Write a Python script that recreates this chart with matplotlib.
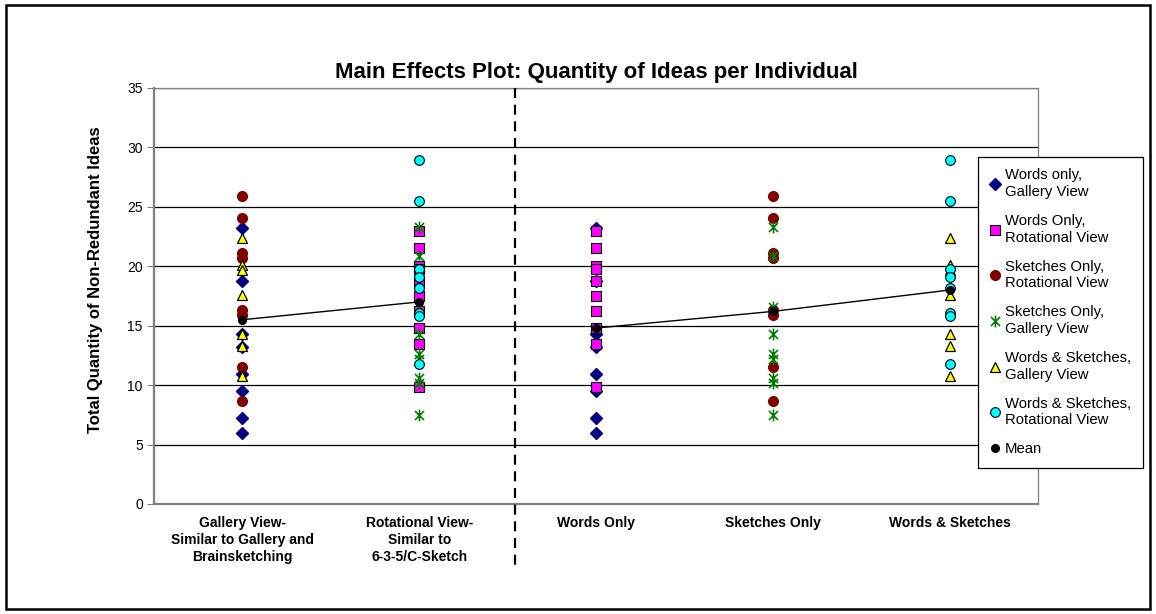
import numpy as np
import matplotlib
matplotlib.use('Agg')
import matplotlib.pyplot as plt
from matplotlib.path import Path

plt.rcParams['font.family'] = ['Liberation Sans', 'DejaVu Sans']

categories = ['Gallery View-\nSimilar to Gallery and\nBrainsketching',
              'Rotational View-\nSimilar to\n6-3-5/C-Sketch',
              'Words Only', 'Sketches Only', 'Words & Sketches']

# each series appears in two columns (category positions 1..5)
words_gallery = [23.2, 18.8, 14.3, 13.2, 10.9, 9.5, 7.2, 6.0]
words_rot = [23.0, 21.5, 20.0, 19.8, 18.8, 17.5, 16.2, 14.8, 13.5, 9.8]
sketch_rot = [25.9, 24.1, 21.1, 20.7, 16.3, 15.9, 11.5, 8.7]
sketch_gallery = [23.3, 20.9, 16.6, 14.3, 12.6, 12.2, 10.6, 10.2, 7.5]
ws_gallery = [22.4, 20.1, 19.7, 17.6, 14.3, 13.3, 10.8]
ws_rot = [28.9, 25.5, 19.8, 19.1, 18.2, 16.1, 15.8, 11.8]
means = [15.5, 17.0, 14.8, 16.2, 18.0]

star = Path([(-1, -1), (1, 1), (-1, 1), (1, -1), (0, -1.3), (0, 1.3)],
            [Path.MOVETO, Path.LINETO, Path.MOVETO, Path.LINETO, Path.MOVETO, Path.LINETO])

series = [
    ('Words only,\nGallery View', words_gallery, (1, 3),
     dict(marker='D', ms=6, mfc='#000080', mec='#000080')),
    ('Words Only,\nRotational View', words_rot, (2, 3),
     dict(marker='s', ms=6.5, mfc='#FF00FF', mec='black', mew=0.8)),
    ('Sketches Only,\nRotational View', sketch_rot, (1, 4),
     dict(marker='o', ms=7, mfc='#800000', mec='#800000')),
    ('Sketches Only,\nGallery View', sketch_gallery, (2, 4),
     dict(marker=star, ms=8.5, mfc='none', mec='#008000', mew=1.2)),
    ('Words & Sketches,\nGallery View', ws_gallery, (1, 5),
     dict(marker='^', ms=7.5, mfc='#FFFF00', mec='black', mew=0.9)),
    ('Words & Sketches,\nRotational View', ws_rot, (2, 5),
     dict(marker='o', ms=7, mfc='#00FFFF', mec='black', mew=0.8)),
]

fig = plt.figure(figsize=(11.56, 6.14), dpi=100)
ax = fig.add_axes([0.1332, 0.1792, 0.7647, 0.6775])

for lab, vals, cols, st in series:
    xs = np.repeat(cols, len(vals))
    ys = list(vals) * len(cols)
    ax.plot(xs, ys, linestyle='none', label=lab, zorder=3, **st)

pos = np.arange(1, len(categories) + 1)
ax.plot(pos[:2], means[:2], color='black', lw=1, zorder=4)
ax.plot(pos[2:], means[2:], color='black', lw=1, zorder=4)
ax.plot(pos, means, linestyle='none', marker='o', ms=5.5, color='black',
        label='Mean', zorder=5)

# divider between the two factors
ax.plot([2.54, 2.54], [35, -5.1], color='black', lw=1.6, ls=(0, (4.5, 3)),
        clip_on=False, zorder=6)

ax.set_xlim(0.5, 5.5)
ax.set_ylim(0, 35)
ax.set_yticks(range(0, 36, 5))
ax.yaxis.grid(True, color='black', lw=0.9)
ax.set_axisbelow(True)
ax.set_xticks(pos)
ax.set_xticklabels(categories, fontsize=10, fontweight='bold', linespacing=1.25)
ax.tick_params(axis='x', length=0, pad=9)
ax.tick_params(axis='y', length=5, width=0.8, labelsize=10, color='#808080', pad=3)
for s in ['top', 'right']:
    ax.spines[s].set_color('#808080')
    ax.spines[s].set_linewidth(0.9)
ax.spines['left'].set_color('#808080')
ax.spines['left'].set_linewidth(1.6)
ax.spines['bottom'].set_color('#808080')
ax.spines['bottom'].set_linewidth(1.6)

ax.set_ylabel('Total Quantity of Non-Redundant Ideas', fontsize=12,
              fontweight='bold')
ax.yaxis.set_label_coords(-0.058, 0.54)
ax.set_title('Main Effects Plot: Quantity of Ideas per Individual',
             fontsize=16, fontweight='bold', pad=7)

leg = ax.legend(loc='upper left', bbox_to_anchor=(0.846, 0.745),
                bbox_transform=fig.transFigure, fontsize=10.7, frameon=True,
                fancybox=False, edgecolor='black', framealpha=1,
                handlelength=0.7, handletextpad=0.3, labelspacing=1.0,
                borderpad=0.8, borderaxespad=0)
for t in leg.get_texts():
    t.set_linespacing(1.25)
leg.get_frame().set_linewidth(0.9)
leg.set_zorder(10)

fig.patches.append(plt.Rectangle((0.005, 0.008), 0.99, 0.984, fill=False,
                                 edgecolor='black', lw=1.8,
                                 transform=fig.transFigure, figure=fig))

fig.savefig('out.png', dpi=100)
